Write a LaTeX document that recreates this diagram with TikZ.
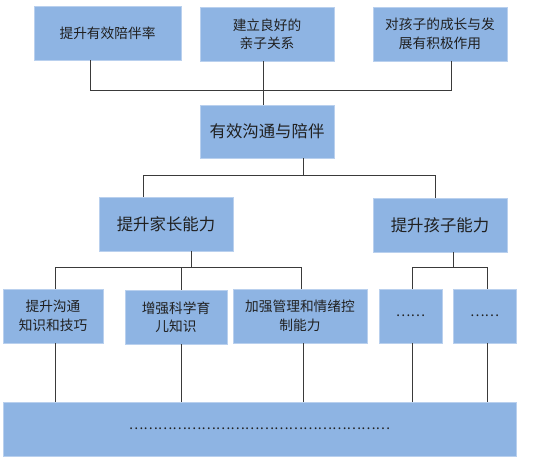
\documentclass[tikz,border=0pt]{standalone}
\usepackage{fontspec}
\setmainfont{Noto Sans CJK SC}
\definecolor{boxfill}{HTML}{8EB4E3}
\definecolor{boxline}{HTML}{B9D0EE}
\definecolor{linkgray}{HTML}{3A3A3A}
\definecolor{txtgray}{HTML}{202020}
\tikzset{
  box/.style={draw=boxline, line width=0.8pt, fill=boxfill, inner sep=0pt,
    minimum height=54pt, align=center, text=txtgray,
    font=\fontsize{13.7}{18.5}\selectfont},
  bigbox/.style={box, font=\fontsize{16.4}{20}\selectfont},
  link/.style={draw=linkgray, line width=0.9pt}
}
\begin{document}
\begin{tikzpicture}[x=1pt, y=-1pt]
      \useasboundingbox (0,0) rectangle (553,465);

      % top row
      \node[box, minimum width=147pt] (goal1) at (107.5,33) {提升有效陪伴率};
      \node[box, minimum width=134pt] (goal2) at (267,34) {建立良好的\\亲子关系};
      \node[box, minimum width=134pt] (goal3) at (440,34) {对孩子的成长与发\\展有积极作用};

      \node[bigbox, minimum width=134pt, minimum height=53pt] (core) at (267,131.5) {有效沟通与陪伴};

      \node[bigbox, minimum width=134pt] (parent) at (166,224) {提升家长能力};
      \node[bigbox, minimum width=134pt] (child) at (440,225) {提升孩子能力};

      % third row
      \node[box, minimum width=100pt] (skill1) at (53,316) {提升沟通\\知识和技巧};
      \node[box, minimum width=102pt] (skill2) at (176,317) {增强科学育\\儿知识};
      \node[box, minimum width=134pt] (skill3) at (300,316) {加强管理和情绪控\\制能力};
      \node[box, minimum width=63pt] (skill4) at (410.5,316) {……};
      \node[box, minimum width=63pt] (skill5) at (484.5,316) {……};

      \node[box, minimum width=513pt] (base) at (259.5,429) {\foreach \i in {1,...,18}{…}};

      % connectors
      \draw[link] ([xshift=-17.5pt]goal1.south) -- ++(0,30) -| ([xshift=11pt]goal3.south);
      \draw[link] ([xshift=-4pt]goal2.south) -- ([xshift=-4pt]core.north);

      \draw[link] ([xshift=36pt]core.south) -- ++(0,17) coordinate (hub);
      \draw[link] ([xshift=-23pt]parent.north) |- (hub) -| ([xshift=-5pt]child.north);

      \draw[link] ([xshift=25pt]parent.south) -- ++(0,16) coordinate (hubl);
      \draw[link] ([xshift=2pt]skill1.north) |- (hubl) -| ([xshift=1pt]skill3.north);
      \draw[link] ([xshift=5pt]skill2.north) -- ([xshift=5pt]skill2.north |- hubl);

      \draw[link] ([xshift=13pt]child.south) -- ++(0,15) coordinate (hubr);
      \draw[link] ([xshift=1.5pt]skill4.north) |- (hubr) -| ([xshift=2.5pt]skill5.north);

      \foreach \n/\dx in {skill1/2, skill2/5, skill3/3, skill4/1.5, skill5/2.5}
        \draw[link] ([xshift=\dx pt]\n.south) -- ([xshift=\dx pt]\n.south |- base.north);
\end{tikzpicture}
\end{document}
